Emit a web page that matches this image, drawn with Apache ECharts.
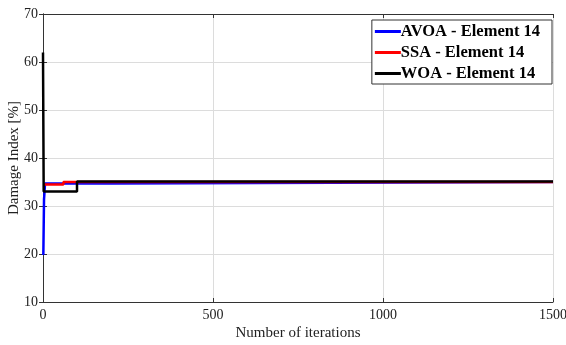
<!DOCTYPE html>
<html>
<head>
<meta charset="utf-8">
<script src="https://cdn.jsdelivr.net/npm/echarts@6/dist/echarts.min.js"></script>
<style>
  html, body { margin: 0; padding: 0; background: #fff; }
  #chart { width: 566px; height: 345px; }
</style>
</head>
<body>
<div id="chart"></div>
<script>
// step points of each convergence curve (iteration, damage index %)
var avoaIter = [1, 3, 4, 6, 200, 1500];
var avoaVal = [19.8, 31.4, 32.4, 34.7, 35.0, 35.0];
var ssaIter = [1, 60, 1500];
var ssaVal = [34.5, 35.0, 35.0];
var woaIter = [0, 2, 100, 1500];
var woaVal = [62, 33.0, 35.1, 35.0];

var xTicks = [0, 500, 1000, 1500];
var yTicks = [10, 20, 30, 40, 50, 60, 70];

function pairs(xs, ys) {
    return xs.map(function (x, i) { return [x, ys[i]]; });
}

var font = 'Liberation Serif';
var myChart = echarts.init(document.getElementById('chart'));

var option = {
    animation: false,
    grid: { left: 43, right: 13, top: 14, bottom: 43, containLabel: false, outerBoundsMode: 'none' },
    legend: {
        orient: 'vertical',
        right: 14,
        top: 20,
        backgroundColor: '#fff',
        borderColor: '#333',
        borderWidth: 1,
        padding: [3, 12, 2, 3],
        itemGap: 4,
        itemWidth: 26,
        itemHeight: 3,
        icon: 'rect',
        textStyle: { fontFamily: font, fontWeight: 'bold', fontSize: 16.5, color: '#000', padding: [0, 0, 0, -5] },
        data: ['AVOA - Element 14', 'SSA - Element 14', 'WOA - Element 14']
    },
    xAxis: [{
        type: 'value',
        min: xTicks[0],
        max: xTicks[xTicks.length - 1],
        interval: 500,
        name: 'Number of iterations',
        nameLocation: 'middle',
        nameGap: 24,
        nameMoveOverlap: false,
        nameTextStyle: { fontFamily: font, fontSize: 15, color: '#222' },
        axisLine: { show: true, lineStyle: { color: '#333' } },
        axisTick: { show: true, inside: true, length: 4, lineStyle: { color: '#333' } },
        axisLabel: { fontFamily: font, fontSize: 14, color: '#222', margin: 6, formatter: function (v) { return String(v); } },
        splitLine: { show: true, lineStyle: { color: '#dcdcdc' } }
    }, {
        type: 'value',
        position: 'top',
        min: xTicks[0],
        max: xTicks[xTicks.length - 1],
        interval: 500,
        axisLine: { show: true, lineStyle: { color: '#333' } },
        axisTick: { show: true, inside: true, length: 4, lineStyle: { color: '#333' } },
        axisLabel: { show: false },
        splitLine: { show: false }
    }],
    yAxis: [{
        type: 'value',
        min: yTicks[0],
        max: yTicks[yTicks.length - 1],
        interval: 10,
        name: 'Damage Index [%]',
        nameLocation: 'middle',
        nameGap: 21,
        nameMoveOverlap: false,
        nameTextStyle: { fontFamily: font, fontSize: 15, color: '#222' },
        axisLine: { show: true, lineStyle: { color: '#333' } },
        axisTick: { show: true, inside: true, length: 4, lineStyle: { color: '#333' } },
        axisLabel: { fontFamily: font, fontSize: 14, color: '#222', margin: 5 },
        splitLine: { show: true, lineStyle: { color: '#dcdcdc' } }
    }, {
        type: 'value',
        position: 'right',
        min: yTicks[0],
        max: yTicks[yTicks.length - 1],
        interval: 10,
        axisLine: { show: true, lineStyle: { color: '#333' } },
        axisTick: { show: true, inside: true, length: 4, lineStyle: { color: '#333' } },
        axisLabel: { show: false },
        splitLine: { show: false }
    }],
    series: [{
        name: 'AVOA - Element 14',
        type: 'line',
        step: 'end',
        showSymbol: false,
        data: pairs(avoaIter, avoaVal),
        itemStyle: { color: '#0000ff' },
        lineStyle: { color: '#0000ff', width: 2.5 }
    }, {
        name: 'SSA - Element 14',
        type: 'line',
        step: 'end',
        showSymbol: false,
        data: pairs(ssaIter, ssaVal),
        itemStyle: { color: '#ff0000' },
        lineStyle: { color: '#ff0000', width: 2.5 }
    }, {
        name: 'WOA - Element 14',
        type: 'line',
        step: 'end',
        showSymbol: false,
        data: pairs(woaIter, woaVal),
        itemStyle: { color: '#000' },
        lineStyle: { color: '#000', width: 2.5 }
    }]
};

myChart.setOption(option);
window.addEventListener('resize', function () { myChart.resize(); });
</script>
</body>
</html>
